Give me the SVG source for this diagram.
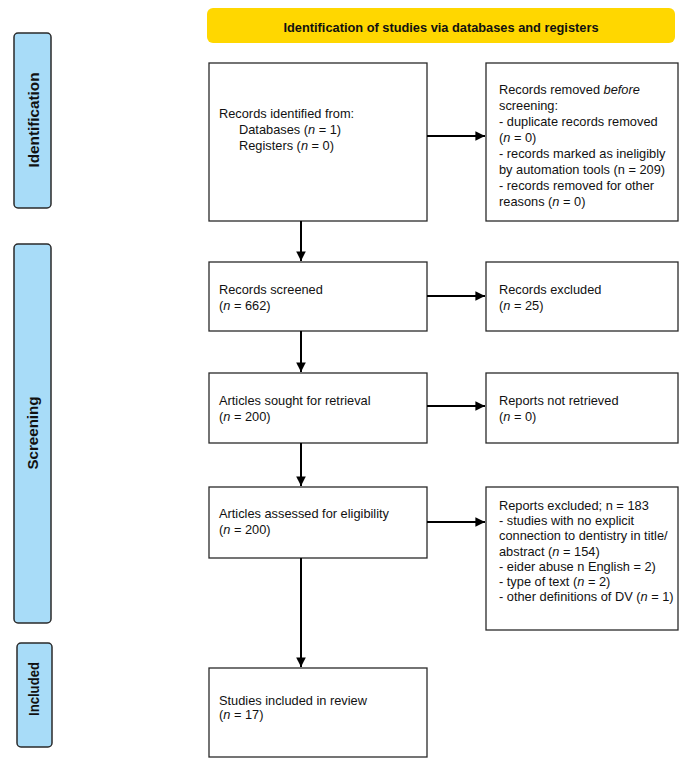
<svg xmlns="http://www.w3.org/2000/svg" width="695" height="764" viewBox="0 0 695 764">
<style>
text{font-family:"Liberation Sans",Arial,sans-serif;font-size:12.8px;fill:#111}
.box{fill:#fff;stroke:#2a2a2a;stroke-width:1.3}
.side{fill:#a8dcf8;stroke:#2a2a2a;stroke-width:1.5}
.lab{font-weight:bold;font-size:14px;text-anchor:middle}
.conn{stroke:#000;stroke-width:2;fill:none}
.it{font-style:italic}
</style>
<defs>
<marker id="ah" viewBox="0 0 10 10" refX="10" refY="5" markerWidth="4.8" markerHeight="4.8" orient="auto" markerUnits="strokeWidth">
<path d="M0,0 L10,5 L0,10 z" fill="#000"/>
</marker>
</defs>

<g id="banner">
<rect x="207" y="8" width="468" height="35" rx="6" fill="#ffd700"/>
<text x="441" y="31.5" text-anchor="middle" font-weight="bold" font-size="13.4">Identification of studies via databases and registers</text>
</g>

<g id="side-identification">
<rect class="side" x="14" y="33" width="37" height="175" rx="4"/>
<text class="lab" transform="translate(38.5,120) rotate(-90)" textLength="95" lengthAdjust="spacingAndGlyphs">Identification</text>
</g>
<g id="side-screening">
<rect class="side" x="14" y="244" width="37" height="379" rx="4"/>
<text class="lab" transform="translate(37.5,433) rotate(-90)" textLength="73" lengthAdjust="spacingAndGlyphs">Screening</text>
</g>
<g id="side-included">
<rect class="side" x="17" y="643" width="35" height="104" rx="4"/>
<text class="lab" transform="translate(38.5,689) rotate(-90)" textLength="54" lengthAdjust="spacingAndGlyphs">Included</text>
</g>

<g id="records-identified">
<rect class="box" x="209" y="63" width="218" height="158"/>
<text x="219" y="118">Records identified from:</text>
<text x="239" y="134">Databases (<tspan class="it">n</tspan> = 1)</text>
<text x="239" y="150">Registers (<tspan class="it">n</tspan> = 0)</text>
</g>

<g id="records-removed">
<rect class="box" x="486" y="63" width="192" height="158"/>
<text x="499" y="94">Records removed <tspan class="it">before</tspan></text>
<text x="499" y="110">screening:</text>
<text x="499" y="126">- duplicate records removed</text>
<text x="499" y="142">(<tspan class="it">n</tspan> = 0)</text>
<text x="499" y="158">- records marked as ineligibly</text>
<text x="499" y="174">by automation tools (n = 209)</text>
<text x="499" y="190">- records removed for other</text>
<text x="499" y="206">reasons (<tspan class="it">n</tspan> = 0)</text>
</g>

<g id="records-screened">
<rect class="box" x="209" y="262" width="218" height="69"/>
<text x="219" y="294">Records screened</text>
<text x="219" y="310">(<tspan class="it">n</tspan> = 662)</text>
</g>

<g id="records-excluded">
<rect class="box" x="486" y="262" width="192" height="69"/>
<text x="499" y="294">Records excluded</text>
<text x="499" y="310">(<tspan class="it">n</tspan> = 25)</text>
</g>

<g id="articles-sought">
<rect class="box" x="209" y="373" width="218" height="70"/>
<text x="219" y="405">Articles sought for retrieval</text>
<text x="219" y="421">(<tspan class="it">n</tspan> = 200)</text>
</g>

<g id="reports-not-retrieved">
<rect class="box" x="486" y="373" width="192" height="70"/>
<text x="499" y="405">Reports not retrieved</text>
<text x="499" y="421">(<tspan class="it">n</tspan> = 0)</text>
</g>

<g id="articles-assessed">
<rect class="box" x="209" y="487" width="218" height="71"/>
<text x="219" y="518">Articles assessed for eligibility</text>
<text x="219" y="533.5">(<tspan class="it">n</tspan> = 200)</text>
</g>

<g id="reports-excluded">
<rect class="box" x="486" y="487" width="192" height="143"/>
<text x="499" y="510">Reports excluded; n = 183</text>
<text x="499" y="525.2">- studies with no explicit</text>
<text x="499" y="540.4">connection to dentistry in title/</text>
<text x="499" y="555.6">abstract (<tspan class="it">n</tspan> = 154)</text>
<text x="499" y="570.8">- eider abuse n English = 2)</text>
<text x="499" y="586">- type of text (<tspan class="it">n</tspan> = 2)</text>
<text x="499" y="601.2" font-size="12.3">- other definitions of DV (<tspan class="it">n</tspan> = 1)</text>
</g>

<g id="studies-included">
<rect class="box" x="209" y="668" width="218" height="89"/>
<text x="219" y="704.5">Studies included in review</text>
<text x="219" y="718.5">(<tspan class="it">n</tspan> = 17)</text>
</g>

<g id="connectors">
<line class="conn" x1="301" y1="221" x2="301" y2="261" marker-end="url(#ah)"/>
<line class="conn" x1="301" y1="331" x2="301" y2="372" marker-end="url(#ah)"/>
<line class="conn" x1="301" y1="443" x2="301" y2="486" marker-end="url(#ah)"/>
<line class="conn" x1="301" y1="558" x2="301" y2="667" marker-end="url(#ah)"/>
<line class="conn" x1="427" y1="136" x2="485" y2="136" marker-end="url(#ah)"/>
<line class="conn" x1="427" y1="296" x2="485" y2="296" marker-end="url(#ah)"/>
<line class="conn" x1="427" y1="406" x2="485" y2="406" marker-end="url(#ah)"/>
<line class="conn" x1="427" y1="522" x2="485" y2="522" marker-end="url(#ah)"/>
</g>
</svg>
